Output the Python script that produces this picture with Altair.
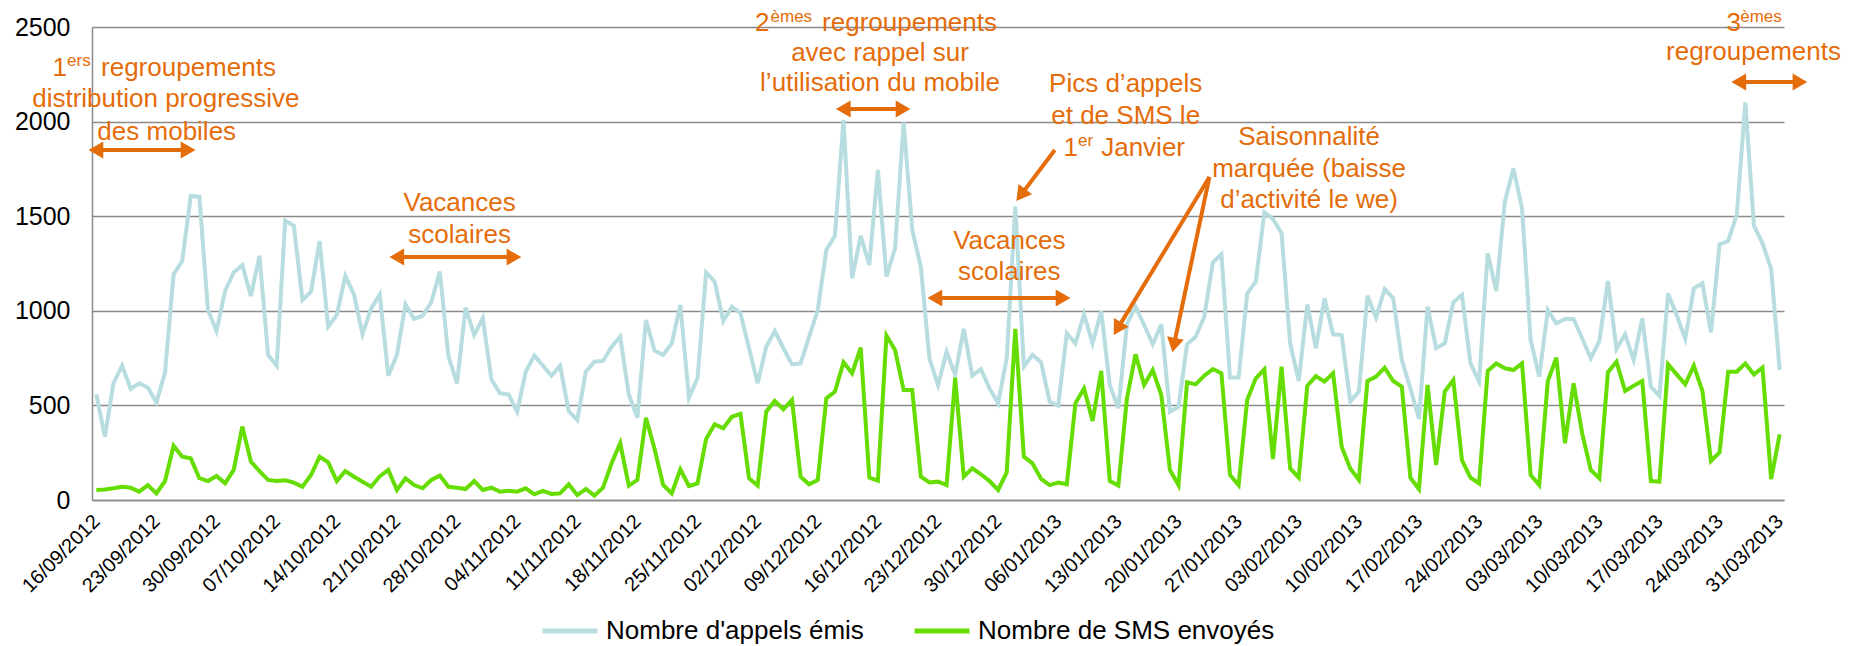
import math
import altair as alt
import pandas as pd

# ---------------- data ----------------
tick_labels = ["16/09/2012", "23/09/2012", "30/09/2012", "07/10/2012", "14/10/2012",
               "21/10/2012", "28/10/2012", "04/11/2012", "11/11/2012", "18/11/2012",
               "25/11/2012", "02/12/2012", "09/12/2012", "16/12/2012", "23/12/2012",
               "30/12/2012", "06/01/2013", "13/01/2013", "20/01/2013", "27/01/2013",
               "03/02/2013", "10/02/2013", "17/02/2013", "24/02/2013", "03/03/2013",
               "10/03/2013", "17/03/2013", "24/03/2013", "31/03/2013"]

series_names = ["Nombre d'appels émis", "Nombre de SMS envoyés"]

appels = [558, 335, 617, 710, 587, 617, 594, 516, 673, 1193,
          1263, 1607, 1603, 1004, 893, 1105, 1203, 1242, 1078, 1292,
          766, 710, 1477, 1450, 1057, 1101, 1369, 916, 978, 1184,
          1087, 876, 1013, 1087,
          657, 767, 1034, 957, 974, 1045, 1207, 758, 617, 1017,
          872, 960, 638, 564, 558, 467, 678, 763, 710, 657,
          710, 470, 423, 678, 731, 735, 810, 863, 558, 435,
          951, 790,
          767, 828, 1031, 541, 643, 1203, 1154, 946, 1022, 987,
          802, 617, 810, 893, 802, 717, 722, 863, 1004, 1322,
          1397, 2009, 1172, 1397, 1242, 1744, 1181, 1330, 1996, 1427,
          1233, 749, 608,
          784, 661, 904, 657, 692, 590, 511, 749, 1551, 705,
          767, 728, 520, 499, 881, 828, 981, 828, 999, 608,
          485, 929, 1022, 925, 823, 929, 467, 493, 823, 863,
          969, 1255,
          1299, 647, 647, 1092, 1154, 1521, 1485, 1410, 828, 629,
          1034, 802, 1066, 876, 872, 520, 573, 1080, 964, 1115,
          1066, 740, 590, 428, 1022, 802, 828, 1045, 1084, 722,
          626, 1304, 1105,
          1577, 1753, 1542, 846, 652, 1004, 934, 957, 957, 855,
          749, 840, 1158, 798, 876, 740, 960, 599, 550, 1092,
          978, 851, 1119, 1145, 886, 1351, 1369, 1507, 2102, 1450,
          1357, 1221, 687]

sms = [53, 56, 62, 70, 65, 44, 79, 35, 100, 287,
       229, 220, 115, 100, 127, 88, 159, 388, 203, 153,
       106, 100, 104, 92, 70, 132, 229, 199, 100, 153,
       123, 97, 70, 125,
       159, 53, 115, 79, 62, 106, 129, 70, 65, 58,
       100, 53, 65, 44, 49, 44, 62, 30, 48, 32,
       35, 83, 26, 58, 23, 65, 194, 300, 76, 106,
       435, 270,
       79, 35, 162, 74, 88, 322, 400, 379, 440, 455,
       115, 76, 467, 523, 479, 529, 123, 83, 106, 537,
       573, 728, 670, 805, 118, 102, 869, 793, 581, 581,
       123, 93, 97,
       79, 647, 123, 167, 136, 100, 53, 146, 904, 229,
       194, 111, 79, 92, 83, 511, 590, 418, 682, 100,
       76, 537, 770, 608, 687, 555, 159, 79, 622, 611,
       657, 692,
       670, 132, 79, 529, 643, 691, 217, 705, 167, 118,
       604, 655, 626, 670, 282, 167, 106, 629, 652, 699,
       629, 599, 118, 58, 608, 185, 573, 634, 211, 118,
       88, 682, 722,
       696, 687, 722, 132, 79, 629, 752, 300, 617, 352,
       159, 115, 675, 731, 576, 604, 629, 100, 97, 717,
       664, 611, 710, 576, 206, 252, 678, 678, 722, 664,
       700, 111, 347]

# annotation texts (day index, value)
center_texts = ["distribution progressive", "des mobiles", "Vacances", "scolaires",
                "avec rappel sur", "l\u2019utilisation du mobile", "Vacances", "scolaires",
                "Pics d\u2019appels", "et de SMS le", "Saisonnalité", "marquée (baisse",
                "d\u2019activité le we)", "regroupements"]
center_x = [8.1, 8.2, 42.3, 42.3, 91.25, 91.25, 106.3, 106.3, 119.85, 119.85,
            141.2, 141.2, 141.2, 192.95]
center_y = [2119, 1945, 1570, 1401, 2363, 2204, 1369, 1205, 2199, 2030,
            1919, 1750, 1586, 2368]

left_texts = ["1", "ers", "regroupements", "2", "èmes", "regroupements",
              "1", "er", "Janvier", "3", "èmes"]
left_x = [-5.1, -3.4, 0.55, 76.7, 78.5, 84.5, 112.6, 114.3, 117.0, 189.8, 191.4]
left_y = [2283, 2320, 2283, 2522, 2552, 2522, 1860, 1898, 1860, 2522, 2552]
left_fs = [26, 17, 26, 26, 17, 26, 26, 17, 26, 26, 17]

# arrows: start x, start y, tip x, tip y, double headed
arrow_x0 = [-0.62, 34.41, 86.4, 97.07, 190.66, 111.6, 129.6, 129.6]
arrow_y0 = [1850, 1284, 2067, 1068, 2209, 1850, 1707, 1707]
arrow_x1 = [11.26, 49.2, 94.5, 113.13, 198.93, 107.3, 118.6, 125.35]
arrow_y1 = [1850, 1284, 2067, 1068, 2209, 1591, 883, 793]
arrow_double = [True, True, True, True, True, False, False, False]

# ---------------- styling ----------------
W, H = 1692, 473
FONT = "Liberation Sans"
ORANGE = "#E46C0A"
BLUE = "#B7DDE0"
GREEN = "#66DD00"
GRID = "#8A8A8A"
N = len(appels)
PXD = W / N
PXV = H / 2500.0
HEAD = 17  # triangle base in px
HEAD_H = 0.433 * HEAD

df = pd.DataFrame({
    "jour": list(range(N)) * 2,
    "valeur": appels + sms,
    "serie": [series_names[0]] * N + [series_names[1]] * N,
})

x_scale = alt.Scale(domain=[-0.5, N - 0.5], nice=False, zero=False)
y_scale = alt.Scale(domain=[0, 2500], nice=False)

label_expr = "[" + ",".join("'" + t + "'" for t in tick_labels) + "][round(datum.value / 7)]"

lines = alt.Chart(df).mark_line(strokeWidth=4).encode(
    x=alt.X("jour:Q", scale=x_scale, title=None,
            axis=alt.Axis(values=list(range(0, N, 7)), labelExpr=label_expr,
                          labelAngle=-45, labelAlign="right", labelBaseline="middle",
                          labelFontSize=20, labelPadding=18, ticks=False, grid=False,
                          domain=True, domainColor=GRID, domainWidth=1.5,
                          labelOverlap=False, labelColor="#000000", labelFont=FONT)),
    y=alt.Y("valeur:Q", scale=y_scale, title=None,
            axis=alt.Axis(values=[0, 500, 1000, 1500, 2000, 2500], format="d", ticks=False,
                          grid=True, gridColor=GRID, gridWidth=1.5,
                          domain=True, domainColor=GRID, domainWidth=1.5,
                          labelFontSize=25, labelPadding=22, labelColor="#000000",
                          labelFont=FONT)),
    color=alt.Color("serie:N", title=None,
                    scale=alt.Scale(domain=series_names, range=[BLUE, GREEN]),
                    legend=alt.Legend(orient="none", legendX=448, legendY=574,
                                      direction="horizontal", symbolType="stroke",
                                      symbolSize=3025, symbolStrokeWidth=5,
                                      labelFontSize=26, labelOffset=6, columnPadding=40,
                                      labelFont=FONT, labelColor="#000000", labelLimit=0)),
)

# arrows geometry (converted through the same data units)
rx, rx2, ry, ry2 = [], [], [], []
hx, hy, ha = [], [], []


def head(tx, ty, fx, fy):
    dx = (tx - fx) * PXD
    dy = -(ty - fy) * PXV
    n = math.hypot(dx, dy)
    ux, uy = dx / n, dy / n
    cx = tx - ux * HEAD_H / PXD
    cy = ty + uy * HEAD_H / PXV
    ang = math.degrees(math.atan2(ux, -uy)) % 360
    return cx, cy, ang


for x0, y0, x1, y1, dbl in zip(arrow_x0, arrow_y0, arrow_x1, arrow_y1, arrow_double):
    c1 = head(x1, y1, x0, y0)
    hx.append(c1[0]); hy.append(c1[1]); ha.append(c1[2])
    if dbl:
        c0 = head(x0, y0, x1, y1)
        hx.append(c0[0]); hy.append(c0[1]); ha.append(c0[2])
        sx, sy = c0[0], c0[1]
    else:
        sx, sy = x0, y0
    rx.append(sx); ry.append(sy); rx2.append(c1[0]); ry2.append(c1[1])

rules_df = pd.DataFrame({"jour": rx, "jour2": rx2, "valeur": ry, "valeur2": ry2})
heads_df = pd.DataFrame({"jour": hx, "valeur": hy, "angle": ha})

rules = alt.Chart(rules_df).mark_rule(color=ORANGE, strokeWidth=4).encode(
    x=alt.X("jour:Q", scale=x_scale, title=None),
    x2="jour2:Q",
    y=alt.Y("valeur:Q", scale=y_scale, title=None),
    y2="valeur2:Q",
)

heads = alt.Chart(heads_df).mark_point(shape="triangle", filled=True, color=ORANGE,
                                       opacity=1, size=HEAD * HEAD, strokeWidth=0).encode(
    x=alt.X("jour:Q", scale=x_scale, title=None),
    y=alt.Y("valeur:Q", scale=y_scale, title=None),
    angle=alt.Angle("angle:Q", scale=None),
)

ctext_df = pd.DataFrame({"jour": center_x, "valeur": center_y, "t": center_texts})
ltext_df = pd.DataFrame({"jour": left_x, "valeur": left_y, "t": left_texts, "fs": left_fs})

txt_c = alt.Chart(ctext_df).mark_text(align="center", baseline="middle", fontSize=26,
                                      font=FONT, color=ORANGE).encode(
    x=alt.X("jour:Q", scale=x_scale, title=None),
    y=alt.Y("valeur:Q", scale=y_scale, title=None),
    text="t:N",
)

txt_l = alt.Chart(ltext_df).mark_text(align="left", baseline="middle",
                                      font=FONT, color=ORANGE).encode(
    x=alt.X("jour:Q", scale=x_scale, title=None),
    y=alt.Y("valeur:Q", scale=y_scale, title=None),
    text="t:N",
    size=alt.Size("fs:Q", scale=None),
)

chart = alt.layer(lines, rules, heads, txt_c, txt_l).properties(
    width=W, height=H,
    autosize=alt.AutoSizeParams(type="none"),
    padding={"left": 84, "top": 19, "right": 57, "bottom": 145},
    background="white",
).configure_view(stroke=None)

chart.save("out.html", embed_options={"renderer": "svg", "actions": False})
